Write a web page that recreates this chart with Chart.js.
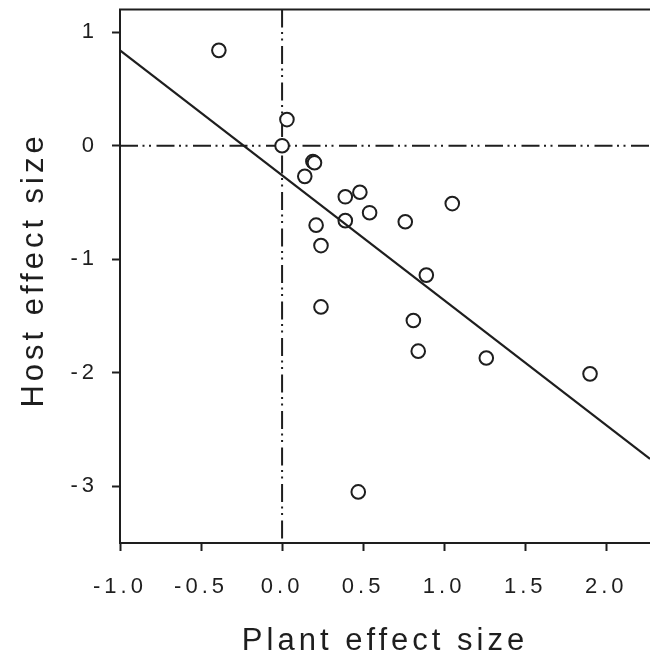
<!DOCTYPE html>
<html>
<head>
<meta charset="utf-8">
<script src="https://cdn.jsdelivr.net/npm/chart.js@4/dist/chart.umd.min.js"></script>
<style>
  html, body { margin: 0; padding: 0; background: #fff; }
  #wrap { width: 650px; height: 655px; }
</style>
</head>
<body>
<div id="wrap"><canvas id="effects"></canvas></div>
<script>
// plant vs host effect size, one entry per study
const plantEffect = [-0.39, 0.03, 0.00, 0.19, 0.20, 0.14, 0.21, 0.24, 0.24, 0.39, 0.48,
  0.39, 0.54, 0.76, 1.05, 0.89, 0.81, 0.84, 1.26, 1.90, 0.47];
const hostEffect = [0.84, 0.23, 0.00, -0.14, -0.15, -0.27, -0.70, -0.88, -1.42, -0.45, -0.41,
  -0.66, -0.59, -0.67, -0.51, -1.14, -1.54, -1.81, -1.87, -2.01, -3.05];

// fitted regression line, read at both ends of the x range
const fitX = [-1.0, 2.27];
const fitY = [0.84, -2.76];

const xMin = -1.0, xMax = 2.27;
const yMin = -3.5, yMax = 1.2;

const ink = "#1e1e1e";
const dashDotDot = [18, 4.5, 2, 4.5, 2, 5.5];
const family = "'Liberation Sans', Arial, sans-serif";

const points = plantEffect.map((x, i) => ({ x: x, y: hostEffect[i] }));

// letter spacing for all text, and the top frame line
const framePlugin = {
  id: "frame",
  beforeLayout(chart) {
    chart.ctx.letterSpacing = "4px";
  },
  beforeDraw(chart) {
    chart.ctx.letterSpacing = "4px";
  },
  afterDraw(chart) {
    const { ctx, chartArea } = chart;
    ctx.save();
    ctx.strokeStyle = ink;
    ctx.lineWidth = 2;
    ctx.beginPath();
    ctx.moveTo(chartArea.left - 1, chartArea.top);
    ctx.lineTo(chartArea.right, chartArea.top);
    ctx.stroke();
    ctx.restore();
  },
};

new Chart(document.getElementById("effects"), {
  data: {
    datasets: [
      {
        type: "line",
        data: [{ x: xMin, y: 0 }, { x: xMax, y: 0 }],
        borderColor: ink,
        borderWidth: 2,
        borderDash: dashDotDot,
        pointRadius: 0,
        order: 3,
      },
      {
        type: "line",
        data: [{ x: 0, y: yMax }, { x: 0, y: yMin }],
        borderColor: ink,
        borderWidth: 2,
        borderDash: dashDotDot,
        pointRadius: 0,
        order: 3,
      },
      {
        type: "scatter",
        data: points,
        pointStyle: "circle",
        pointRadius: 6.8,
        pointHoverRadius: 6.8,
        borderWidth: 2,
        borderColor: ink,
        backgroundColor: "#fff",
        order: 2,
      },
      {
        type: "line",
        data: fitX.map((x, i) => ({ x: x, y: fitY[i] })),
        borderColor: ink,
        borderWidth: 2.2,
        pointRadius: 0,
        order: 1,
      },
    ],
  },
  options: {
    responsive: true,
    maintainAspectRatio: false,
    animation: false,
    clip: false,
    layout: { autoPadding: false, padding: { top: 9.5, right: 0, bottom: 0, left: 0 } },
    plugins: {
      legend: { display: false },
      tooltip: { enabled: false },
    },
    scales: {
      x: {
        type: "linear",
        min: xMin,
        max: xMax,
        afterFit(scale) {
          scale.height = 112;
          scale.paddingLeft = 0;
          scale.paddingRight = 0;
        },
        border: { display: true, color: ink, width: 2 },
        grid: {
          drawOnChartArea: false,
          drawTicks: true,
          tickLength: 8,
          tickWidth: 2,
          tickColor: ink,
        },
        ticks: {
          stepSize: 0.5,
          includeBounds: false,
          padding: 23,
          color: ink,
          maxRotation: 0,
          font: { family: family, size: 22 },
          callback: (v) => v.toFixed(1),
        },
        title: {
          display: true,
          text: "Plant effect size",
          color: ink,
          padding: { top: 0, bottom: 0 },
          font: { family: family, size: 31, lineHeight: 0.9 },
        },
      },
      y: {
        type: "linear",
        min: yMin,
        max: yMax,
        afterFit(scale) {
          scale.width = 120;
          scale.paddingTop = 0;
          scale.paddingBottom = 0;
        },
        border: { display: true, color: ink, width: 2 },
        grid: {
          drawOnChartArea: false,
          drawTicks: true,
          tickLength: 8,
          tickWidth: 2,
          tickColor: ink,
        },
        ticks: {
          stepSize: 1,
          includeBounds: false,
          padding: 14,
          color: ink,
          font: { family: family, size: 22 },
          callback: (v) => String(v),
        },
        title: {
          display: true,
          text: " Host effect size",
          color: ink,
          padding: { top: 19, bottom: 0 },
          font: { family: family, size: 31, lineHeight: 1 },
        },
      },
    },
  },
  plugins: [framePlugin],
});
</script>
</body>
</html>
